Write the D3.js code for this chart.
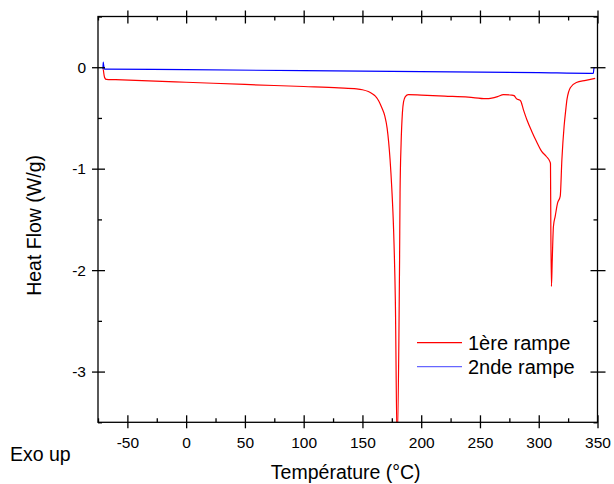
<!DOCTYPE html>
<html>
<head>
<meta charset="utf-8">
<script src="https://cdn.jsdelivr.net/npm/d3@7"></script>
<style>
  html, body { margin: 0; padding: 0; background: #fff; }
  svg { display: block; }
  text { font-family: "Liberation Sans", Arial, sans-serif; fill: #000; }
</style>
</head>
<body>
<svg id="chart" width="614" height="484"></svg>
<script>
// ---- data ----
const xTicks = [-50, 0, 50, 100, 150, 200, 250, 300, 350];
const xMinorTicks = [-75, -25, 25, 75, 125, 175, 225, 275, 325];
const yTicks = [0, -1, -2, -3];
const yMinorTicks = [0.5, -0.5, -1.5, -2.5, -3.5];
const seriesNames = ["1ère rampe", "2nde rampe"];
const seriesColors = ["#ff0000", "#0000ff"];

// 1ère rampe : temperature (°C), heat flow (W/g)
const rampe1T = [-70.5, -69.8, -69, -68, -60, 0, 50, 100, 130, 145, 150, 155, 158, 161, 164, 166.5, 169, 171, 173.5, 175, 176.5, 178, 179.5, 181, 181.6, 182, 182.9, 184, 185, 186.5, 189, 200, 220, 240, 255, 260, 265, 270, 277, 279, 281, 284.5, 287, 290, 294, 298, 302.5, 306.5, 309.5, 310, 310.3, 310.8, 311.5, 312.5, 314, 316, 318.3, 319.7, 321.6, 323, 324, 325.5, 327, 332, 340, 348];
const rampe1HF = [-0.02, -0.08, -0.11, -0.12, -0.123, -0.148, -0.17, -0.19, -0.203, -0.213, -0.222, -0.24, -0.258, -0.285, -0.335, -0.40, -0.48, -0.60, -0.91, -1.2, -1.6, -2.3, -3.7, -2.7, -1.9, -1.24, -0.75, -0.45, -0.34, -0.29, -0.27, -0.275, -0.285, -0.295, -0.31, -0.305, -0.29, -0.27, -0.275, -0.28, -0.31, -0.33, -0.42, -0.52, -0.63, -0.73, -0.83, -0.88, -0.93, -0.95, -1.6, -2.16, -1.9, -1.57, -1.47, -1.34, -1.27, -0.91, -0.58, -0.42, -0.32, -0.24, -0.20, -0.15, -0.13, -0.11];

// 2nde rampe
const rampe2T = [-70.8, -70.6, -70.2, -69.5, 0, 100, 200, 300, 343, 346.5, 347, 348];
const rampe2HF = [-0.02, 0.05, 0.02, -0.018, -0.024, -0.034, -0.044, -0.054, -0.06, -0.06, -0.005, -0.005];

// ---- layout ----
const svg = d3.select("#chart");
const L = 98, R = 597.5, T = 16.5, B = 422.3;
const x = d3.scaleLinear().domain([-75, 350]).range([L, R]);
const y = d3.scaleLinear().domain([-3.5, 0.5]).range([B, T]);
const fmt = d => String(d); // plain hyphen-minus as in the reference

svg.append("defs").append("clipPath").attr("id", "plotclip")
  .append("rect").attr("x", L).attr("y", T).attr("width", R - L).attr("height", B - T);

// ---- curves ----
const series = [
  rampe1T.map((t, i) => [t, rampe1HF[i]]),
  rampe2T.map((t, i) => [t, rampe2HF[i]])
];
const line = d3.line().x(d => x(d[0])).y(d => y(d[1])).curve(d3.curveMonotoneX);
const g = svg.append("g").attr("clip-path", "url(#plotclip)");
series.forEach((s, i) => {
  g.append("path").datum(s)
    .attr("fill", "none")
    .attr("stroke", seriesColors[i])
    .attr("stroke-width", 1.2)
    .attr("d", line);
});

// ---- axes ----
const axisStroke = 1.3;
function styleAxis(sel) {
  sel.select(".domain").remove();
  sel.selectAll("line").attr("stroke", "#000").attr("stroke-width", axisStroke);
  sel.selectAll("text").style("font-family", '"Liberation Sans", Arial, sans-serif')
    .style("font-size", "15.5px").attr("fill", "#000");
}

// bottom: major ticks crossing, minor inward
const xb = svg.append("g").attr("transform", `translate(0,${B})`)
  .call(d3.axisBottom(x).tickValues(xTicks).tickSize(6).tickPadding(9).tickFormat(fmt));
styleAxis(xb);
xb.selectAll(".tick line").attr("y1", -7).attr("y2", 6);
svg.append("g").attr("transform", `translate(0,${B})`)
  .call(d3.axisBottom(x).tickValues(xMinorTicks).tickSize(-4).tickFormat(""))
  .call(styleAxis);

// top: no labels
const xt = svg.append("g").attr("transform", `translate(0,${T})`)
  .call(d3.axisTop(x).tickValues(xTicks).tickSize(6).tickFormat(""));
styleAxis(xt);
xt.selectAll(".tick line").attr("y1", 7).attr("y2", -6);
svg.append("g").attr("transform", `translate(0,${T})`)
  .call(d3.axisTop(x).tickValues(xMinorTicks).tickSize(-4).tickFormat(""))
  .call(styleAxis);

// left
const yl = svg.append("g").attr("transform", `translate(${L},0)`)
  .call(d3.axisLeft(y).tickValues(yTicks).tickSize(6).tickPadding(6).tickFormat(fmt));
styleAxis(yl);
yl.selectAll(".tick line").attr("x1", 7).attr("x2", -6);
svg.append("g").attr("transform", `translate(${L},0)`)
  .call(d3.axisLeft(y).tickValues(yMinorTicks).tickSize(-4).tickFormat(""))
  .call(styleAxis);

// right
const yr = svg.append("g").attr("transform", `translate(${R},0)`)
  .call(d3.axisRight(y).tickValues(yTicks).tickSize(8).tickFormat(""));
styleAxis(yr);
yr.selectAll(".tick line").attr("x1", -7).attr("x2", 8);
svg.append("g").attr("transform", `translate(${R},0)`)
  .call(d3.axisRight(y).tickValues(yMinorTicks).tickSize(-4).tickFormat(""))
  .call(styleAxis);

// frame
svg.append("rect").attr("x", L).attr("y", T).attr("width", R - L).attr("height", B - T)
  .attr("fill", "none").attr("stroke", "#000").attr("stroke-width", axisStroke);

// ---- titles ----
svg.append("text").attr("x", (L + R) / 2 - 2).attr("y", 479)
  .attr("text-anchor", "middle").style("font-size", "19.5px").text("Température (°C)");
svg.append("text").attr("transform", `translate(40.5,${(T + B) / 2 + 6}) rotate(-90)`)
  .attr("text-anchor", "middle").style("font-size", "19.5px").text("Heat Flow (W/g)");
svg.append("text").attr("x", 10).attr("y", 461)
  .style("font-size", "19.5px").text("Exo up");

// ---- legend ----
const leg = svg.append("g");
seriesNames.forEach((name, i) => {
  const ly = 342.7 + i * 24;
  leg.append("line").attr("x1", 417).attr("x2", 462).attr("y1", ly).attr("y2", ly)
    .attr("stroke", seriesColors[i]).attr("stroke-width", 1.2)
    .attr("stroke-opacity", i === 1 ? 0.6 : 1);
  leg.append("text").attr("x", 468).attr("y", ly + 7)
    .style("font-size", "20px").text(name);
});
</script>
</body>
</html>
